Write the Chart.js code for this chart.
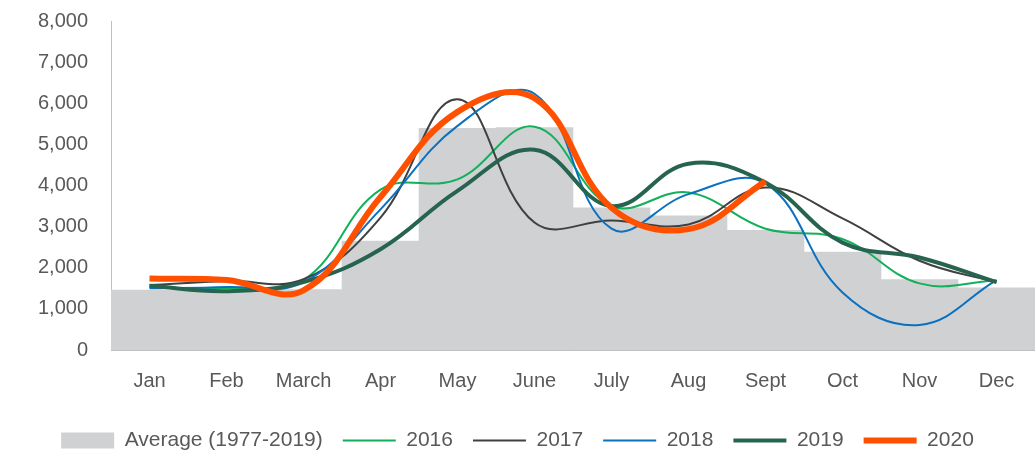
<!DOCTYPE html>
<html>
<head>
<meta charset="utf-8">
<script src="https://cdn.jsdelivr.net/npm/chart.js@4"></script>
<style>
  html, body { margin: 0; padding: 0; background: #fff; }
  #wrap { width: 1035px; height: 452px; }
</style>
</head>
<body>
<div id="wrap"><canvas id="flowChart"></canvas></div>
<script>
// Datos
const months = ['Jan', 'Feb', 'March', 'Apr', 'May', 'June', 'July', 'Aug', 'Sept', 'Oct', 'Nov', 'Dec'];
const average = [1460, 1460, 1470, 2650, 5390, 5410, 3460, 3260, 2910, 2380, 1710, 1510];
const y2016 = [1530, 1500, 1700, 3900, 4150, 5430, 3500, 3830, 2950, 2700, 1620, 1690];
const y2017 = [1580, 1680, 1720, 3220, 6100, 3100, 3150, 3050, 3950, 3200, 2170, 1640];
const y2018 = [1500, 1530, 1650, 3420, 5450, 6230, 2950, 3790, 4050, 1400, 610, 1700];
const y2019 = [1560, 1430, 1650, 2450, 3870, 4870, 3500, 4530, 4070, 2610, 2250, 1650];
const y2020 = [1740, 1700, 1450, 3720, 5790, 6120, 3460, 2940, 4100];
const yTicks = [0, 1000, 2000, 3000, 4000, 5000, 6000, 7000, 8000];

const fontFamily = "'Liberation Sans', Arial, sans-serif";
const textColor = '#595959';

function lineSet(label, data, color, width, order) {
    return {
        type: 'line',
        label: label,
        data: data,
        borderColor: color,
        backgroundColor: color,
        borderWidth: width,
        pointRadius: 0,
        pointHoverRadius: 0,
        pointStyle: 'line',
        tension: 0.4,
        fill: false,
        order: order
    };
}

document.addEventListener('DOMContentLoaded', function() {
    const ctx = document.getElementById('flowChart');

    new Chart(ctx.getContext('2d'), {
        type: 'bar',
        data: {
            labels: months,
            datasets: [
                {
                    label: 'Average (1977-2019)',
                    data: average,
                    backgroundColor: '#d0d1d3',
                    borderWidth: 0,
                    barPercentage: 1,
                    categoryPercentage: 1,
                    pointStyle: 'rect',
                    order: 10
                },
                lineSet('2016', y2016, '#12b05a', 2, 5),
                lineSet('2017', y2017, '#404040', 2, 4),
                lineSet('2018', y2018, '#0a70c0', 2, 3),
                lineSet('2019', y2019, '#276450', 4, 2),
                lineSet('2020', y2020, '#ff5000', 6, 1)
            ]
        },
        options: {
            responsive: true,
            maintainAspectRatio: false,
            animation: false,
            layout: { padding: { top: 21, right: 0, left: 0, bottom: -9 } },
            scales: {
                x: {
                    grid: { display: false },
                    border: { display: true, color: '#bfbfbf' },
                    ticks: {
                        color: textColor,
                        font: { family: fontFamily, size: 20 },
                        padding: 11,
                        maxRotation: 0
                    },
                    afterFit: function(scale) { scale.height = 60; }
                },
                y: {
                    min: 0,
                    max: 8000,
                    grid: { display: false, drawTicks: false },
                    border: { display: true, color: '#bfbfbf' },
                    afterBuildTicks: function(scale) {
                        scale.ticks = yTicks.map(v => ({ value: v }));
                    },
                    ticks: {
                        color: textColor,
                        font: { family: fontFamily, size: 20 },
                        padding: 23
                    },
                    afterFit: function(scale) {
                        scale.width = 111;
                        scale.paddingTop = 0;
                        scale.paddingBottom = 0;
                    }
                }
            },
            plugins: {
                legend: {
                    position: 'bottom',
                    labels: {
                        usePointStyle: true,
                        pointStyleWidth: 53,
                        boxHeight: 16,
                        padding: 20,
                        color: textColor,
                        font: { family: fontFamily, size: 21 },
                        sort: (a, b) => a.datasetIndex - b.datasetIndex
                    }
                },
                tooltip: { enabled: false }
            }
        }
    });
});
</script>
</body>
</html>
